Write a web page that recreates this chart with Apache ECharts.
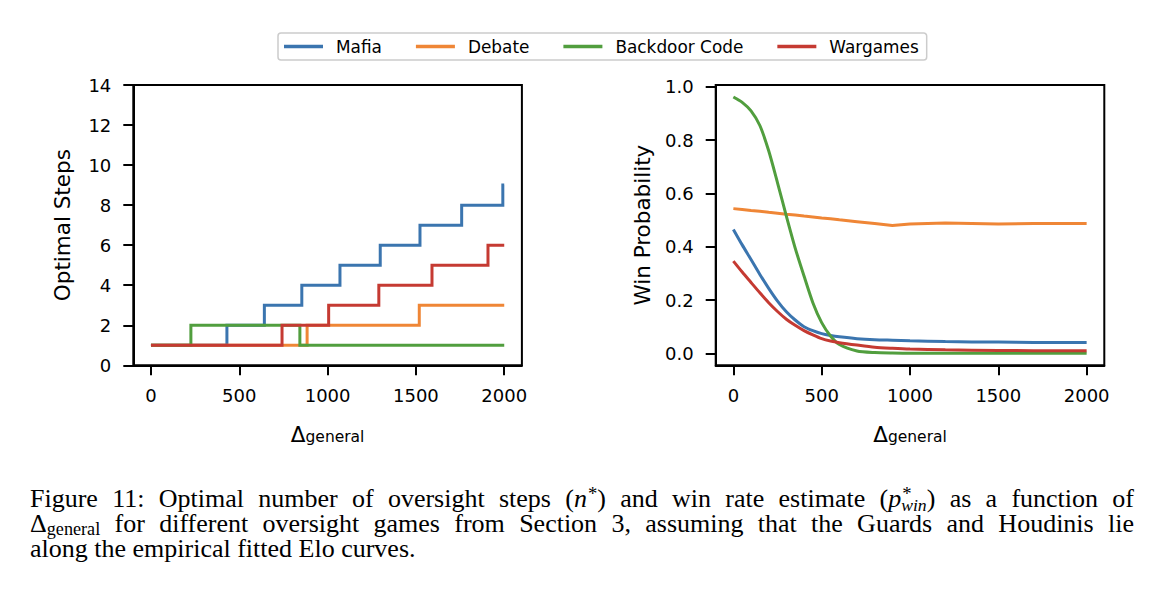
<!DOCTYPE html>
<html>
<head>
<meta charset="utf-8">
<script src="https://cdn.jsdelivr.net/npm/echarts@6/dist/echarts.min.js"></script>
<style>
html,body{margin:0;padding:0;background:#fff;}
#chart{width:1158px;height:592px;}
</style>
</head>
<body>
<div id="chart"></div>
<script>
// ---------- data ----------
const seriesNames = ['Mafia', 'Debate', 'Backdoor Code', 'Wargames'];
const seriesColors = ['#3b75af', '#ef8636', '#519e3e', '#c53a32'];

const xTickValues = [0, 500, 1000, 1500, 2000];
const winTickValues = [0, 0.2, 0.4, 0.6, 0.8, 1.0];

// Left panel: optimal steps (value holds from x until next x)
const mafiaStepX = [0, 430, 642, 854, 1070, 1298, 1523, 1759, 1992, 2000];
const mafiaStepY = [1, 2, 3, 4, 5, 6, 7, 8, 9, 9];
const debateStepX = [0, 884, 1519, 2000];
const debateStepY = [1, 2, 3, 3];
const backdoorStepX = [0, 226, 843, 2000];
const backdoorStepY = [1, 2, 1, 1];
const wargamesStepX = [0, 742, 1006, 1290, 1591, 1908, 2000];
const wargamesStepY = [1, 2, 3, 4, 5, 6, 6];

// Right panel: win probability
const winX = [0, 50, 100, 150, 200, 250, 300, 350, 400, 450, 500, 550, 600, 700, 800, 900, 1000, 1200, 1500, 1700, 2000];
const mafiaWin =    [0.465, 0.407, 0.352, 0.296, 0.244, 0.196, 0.156, 0.125, 0.100, 0.085, 0.074, 0.067, 0.062, 0.055, 0.051, 0.049, 0.047, 0.044, 0.042, 0.041, 0.041];
const debateWin =   [0.543, 0.540, 0.536, 0.533, 0.529, 0.526, 0.522, 0.519, 0.515, 0.512, 0.508, 0.505, 0.501, 0.494, 0.487, 0.480, 0.485, 0.489, 0.485, 0.487, 0.487];
const backdoorWin = [0.962, 0.942, 0.910, 0.855, 0.760, 0.640, 0.515, 0.395, 0.290, 0.190, 0.115, 0.065, 0.033, 0.009, 0.003, 0.001, 0.000, 0.000, 0.000, 0.000, 0.000];
const wargamesWin = [0.346, 0.305, 0.266, 0.227, 0.190, 0.157, 0.128, 0.105, 0.085, 0.069, 0.055, 0.046, 0.040, 0.031, 0.023, 0.019, 0.016, 0.013, 0.011, 0.010, 0.010];

// ---------- chart ----------
const SANS = 'DejaVu Sans';
const SERIF = 'Liberation Serif';
const chart = echarts.init(document.getElementById('chart'), null, {renderer: 'svg', width: 1158, height: 592});

const stepSets = [[mafiaStepX, mafiaStepY], [debateStepX, debateStepY], [backdoorStepX, backdoorStepY], [wargamesStepX, wargamesStepY]];
const winSets = [mafiaWin, debateWin, backdoorWin, wargamesWin];

const LW = 3;
const series = [];
stepSets.forEach((s, k) => {
  series.push({
    name: seriesNames[k], type: 'line', xAxisIndex: 0, yAxisIndex: 0,
    step: 'end', showSymbol: false, symbol: 'none', animation: false,
    data: s[0].map((x, i) => [x, s[1][i]]),
    lineStyle: {color: seriesColors[k], width: LW, join: 'miter'},
    itemStyle: {color: seriesColors[k]}, z: 2 + k
  });
});
winSets.forEach((vals, k) => {
  series.push({
    name: seriesNames[k], type: 'line', xAxisIndex: 1, yAxisIndex: 1,
    showSymbol: false, symbol: 'none', animation: false,
    smooth: k === 1 ? false : 0.25,
    data: winX.map((x, i) => [x, vals[i]]),
    lineStyle: {color: seriesColors[k], width: LW},
    itemStyle: {color: seriesColors[k]}, z: 2 + k
  });
});

function xAxisDef(gi) {
  return {
    type: 'value', gridIndex: gi, min: -100, max: 2100,
    splitLine: {show: false},
    axisLine: {show: true, onZero: false, lineStyle: {color: '#000', width: 2}},
    axisTick: {show: true, customValues: xTickValues, length: 10, lineStyle: {color: '#000', width: 2}},
    axisLabel: {show: true, customValues: xTickValues, margin: 21, fontSize: 18, fontFamily: SANS, color: '#000',
                formatter: v => String(Math.round(v))},
    name: '{d|Δ}{s|general}', nameLocation: 'middle', nameGap: 56,
    nameTextStyle: {
      color: '#000', fontFamily: SANS,
      rich: {
        d: {fontSize: 21.5, fontFamily: SANS, color: '#000', verticalAlign: 'bottom', lineHeight: 24},
        s: {fontSize: 15.5, fontFamily: SANS, color: '#000', verticalAlign: 'bottom', lineHeight: 22}
      }
    }
  };
}

const option = {
  backgroundColor: '#ffffff',
  animation: false,
  legend: {
    data: seriesNames, left: 278, top: 33,
    padding: [5, 8, 5, 6], itemGap: 34, itemWidth: 39, itemHeight: 3.5, icon: 'rect',
    borderColor: '#cccccc', borderWidth: 1.5, borderRadius: 3, backgroundColor: '#fff',
    textStyle: {fontSize: 16.9, fontFamily: SANS, color: '#000', padding: [0, 0, 0, 8]},
    selectedMode: false
  },
  grid: [
    {left: 133.3, top: 85, width: 388.6, height: 280.3, show: true, borderColor: '#000', borderWidth: 2, backgroundColor: 'transparent', containLabel: false},
    {left: 715.7, top: 85, width: 388.6, height: 280.3, show: true, borderColor: '#000', borderWidth: 2, backgroundColor: 'transparent', containLabel: false}
  ],
  xAxis: [xAxisDef(0), xAxisDef(1)],
  yAxis: [
    {
      type: 'value', gridIndex: 0, min: 0, max: 14, interval: 2,
      splitLine: {show: false},
      axisLine: {show: true, onZero: false, lineStyle: {color: '#000', width: 2}},
      axisTick: {show: true, length: 10, lineStyle: {color: '#000', width: 2}},
      axisLabel: {margin: 22, fontSize: 18, fontFamily: SANS, color: '#000'},
      name: 'Optimal Steps', nameLocation: 'middle', nameGap: 60,
      nameTextStyle: {fontSize: 21.5, fontFamily: SANS, color: '#000'}
    },
    {
      type: 'value', gridIndex: 1, min: -0.045, max: 1.007,
      splitLine: {show: false},
      axisLine: {show: true, onZero: false, lineStyle: {color: '#000', width: 2}},
      axisTick: {show: true, customValues: winTickValues, length: 10, lineStyle: {color: '#000', width: 2}},
      axisLabel: {customValues: winTickValues, margin: 22, fontSize: 18, fontFamily: SANS, color: '#000',
                  formatter: v => Number(v).toFixed(1)},
      name: 'Win Probability', nameLocation: 'middle', nameGap: 62,
      nameTextStyle: {fontSize: 21.5, fontFamily: SANS, color: '#000'}
    }
  ],
  series: series,
  graphic: buildCaption()
};

function buildCaption() {
  // Caption lines: words made of pieces [text, style]
  const line1 = [
    [['Figure','n']], [['11:','n']], [['Optimal','n']], [['number','n']], [['of','n']], [['oversight','n']],
    [['steps','n']], [['(','n'], ['n','i'], ['*','sup'], [')','n']], [['and','n']], [['win','n']], [['rate','n']],
    [['estimate','n']], [['(','n'], ['p','i'], ['*','sup'], ['win','sub'], [')','n']], [['as','n']], [['a','n']],
    [['function','n']], [['of','n']]
  ];
  const line2 = [
    [['Δ','n'], ['general','subr']], [['for','n']], [['different','n']], [['oversight','n']], [['games','n']],
    [['from','n']], [['Section','n']], [['3,','n']], [['assuming','n']], [['that','n']], [['the','n']],
    [['Guards','n']], [['and','n']], [['Houdinis','n']], [['lie','n']]
  ];
  const line3 = [
    [['along','n']], [['the','n']], [['empirical','n']], [['fitted','n']], [['Elo','n']], [['curves.','n']]
  ];
  const lines = [
    {words: line1, base: 507, justify: true},
    {words: line2, base: 532, justify: true},
    {words: line3, base: 557, justify: false}
  ];
  const ctx = document.createElement('canvas').getContext('2d');
  function spec(st, fs) {
    switch (st) {
      case 'i': return {italic: true, size: fs, dy: 0};
      case 'sup': return {italic: false, size: fs * 0.72, dy: -fs * 0.28};
      case 'sub': return {italic: true, size: fs * 0.68, dy: fs * 0.14};
      case 'subr': return {italic: false, size: fs * 0.70, dy: fs * 0.10};
      default: return {italic: false, size: fs, dy: 0};
    }
  }
  function fontStr(sp) { return (sp.italic ? 'italic ' : '') + sp.size + 'px "' + SERIF + '"'; }
  function measure(text, sp) { ctx.font = fontStr(sp); return ctx.measureText(text).width; }
  function layoutWord(word, fs) {
    const out = [];
    let x = 0, i = 0;
    while (i < word.length) {
      const [t, st] = word[i];
      const sp = spec(st, fs);
      const w = measure(t, sp);
      if (st === 'sup' && i + 1 < word.length && word[i + 1][1] === 'sub') {
        const [t2, st2] = word[i + 1];
        const sp2 = spec(st2, fs);
        const w2 = measure(t2, sp2);
        out.push({t, sp, x: x + 1});
        out.push({t: t2, sp: sp2, x: x});
        x += Math.max(w + 1, w2);
        i += 2;
        continue;
      }
      out.push({t, sp, x: x + (st === 'sup' ? 1 : 0)});
      x += w + (st === 'sup' ? 1 : 0);
      i += 1;
    }
    return {pieces: out, width: x};
  }
  const left = 30, right = 1134;
  const fs = 26;
  const els = [];
  lines.forEach(L => {
    const laid = L.words.map(w => layoutWord(w, fs));
    const spaceW = measure(' ', spec('n', fs));
    const natural = laid.reduce((a, b) => a + b.width, 0) + spaceW * (laid.length - 1);
    const gap = L.justify ? spaceW + (right - left - natural) / (laid.length - 1) : spaceW;
    let x = left;
    laid.forEach(w => {
      w.pieces.forEach(p => {
        els.push({
          type: 'text', silent: true,
          x: x + p.x, y: L.base + p.sp.dy - 0.33 * p.sp.size,
          style: {
            text: p.t, fill: '#000', lineHeight: p.sp.size * 0.8,
            fontSize: p.sp.size, fontFamily: SERIF, fontStyle: p.sp.italic ? 'italic' : 'normal',
            textVerticalAlign: 'middle', verticalAlign: 'middle', textAlign: 'left', align: 'left'
          }
        });
      });
      x += w.width + gap;
    });
  });
  return els;
}

chart.setOption(option);
</script>
</body>
</html>
